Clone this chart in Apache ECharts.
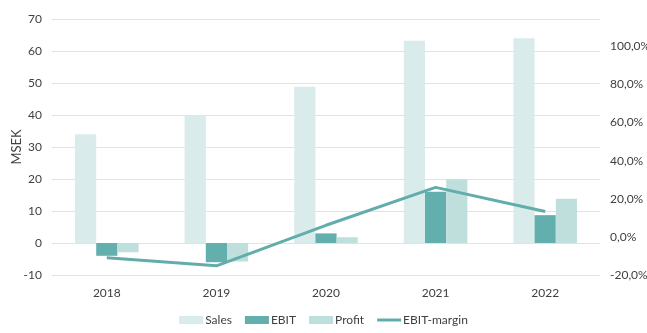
<!DOCTYPE html>
<html>
<head>
<meta charset="utf-8">
<style>
  html, body { margin: 0; padding: 0; background: #fff; }
  #chart { width: 647px; height: 333px; }
</style>
<script src="https://cdn.jsdelivr.net/npm/echarts@6/dist/echarts.min.js"></script>
</head>
<body>
<div id="chart"></div>
<script>
// Yearly figures, MSEK
const years = ['2018', '2019', '2020', '2021', '2022'];
const sales = [34, 40, 48.8, 63.2, 64];
const ebit = [-4, -6, 3, 16, 8.7];
const profit = [-2.9, -5.8, 1.8, 19.9, 13.8];
// EBIT-margin, percent
const ebitMargin = [-11, -15.2, 6.1, 26, 13.3];

const textColor = '#404040';
const font = 'Lato';
const lineColor = '#62adab';

const chart = echarts.init(document.getElementById('chart'), null, { renderer: 'canvas' });

chart.setOption({
  animation: false,
  textStyle: { fontFamily: font, color: textColor },
  grid: { left: 52, right: 47, top: 19, bottom: 58, containLabel: false, outerBoundsMode: 'none' },
  legend: {
    bottom: 2,
    left: 'center',
    itemWidth: 24,
    itemHeight: 8,
    itemGap: 13,
    textStyle: { fontFamily: font, fontSize: 12, color: textColor, padding: [0, 0, 0, -3] },
    data: [
      { name: 'Sales', icon: 'rect' },
      { name: 'EBIT', icon: 'rect' },
      { name: 'Profit', icon: 'rect' },
      { name: 'EBIT-margin', icon: 'path://M0,0H24V3H0Z', itemStyle: { color: lineColor } }
    ]
  },
  xAxis: {
    type: 'category',
    data: years,
    axisLine: { show: false },
    axisTick: { show: false },
    axisLabel: { fontFamily: font, fontSize: 12, color: textColor, margin: 12 }
  },
  yAxis: [
    {
      type: 'value',
      min: -10,
      max: 70,
      interval: 10,
      name: 'MSEK',
      nameLocation: 'middle',
      nameGap: 29,
      nameMoveOverlap: false,
      nameTextStyle: { fontFamily: font, fontSize: 13, color: textColor },
      axisLine: { show: false },
      axisTick: { show: false },
      axisLabel: { fontFamily: font, fontSize: 12, color: textColor, margin: 10 },
      splitLine: { lineStyle: { color: '#e2e2e2', width: 1 } }
    },
    {
      type: 'value',
      min: -20,
      max: 114.4,
      interval: 20,
      position: 'right',
      axisLine: { show: false },
      axisTick: { show: false },
      splitLine: { show: false },
      axisLabel: {
        fontFamily: font,
        fontSize: 12,
        color: textColor,
        margin: 10,
        showMaxLabel: false,
        formatter: v => v.toFixed(1).replace('.', ',') + '%'
      }
    }
  ],
  series: [
    {
      name: 'Sales',
      type: 'bar',
      data: sales,
      barGap: '0%',
      barCategoryGap: '42%',
      itemStyle: { color: '#d9ebea' }
    },
    {
      name: 'EBIT',
      type: 'bar',
      data: ebit,
      itemStyle: { color: '#63afad' }
    },
    {
      name: 'Profit',
      type: 'bar',
      data: profit,
      itemStyle: { color: '#bfdfdd' }
    },
    {
      name: 'EBIT-margin',
      type: 'line',
      yAxisIndex: 1,
      data: ebitMargin,
      symbol: 'none',
      lineStyle: { color: lineColor, width: 3 },
      itemStyle: { color: lineColor },
      z: 5
    }
  ]
});
</script>
</body>
</html>
